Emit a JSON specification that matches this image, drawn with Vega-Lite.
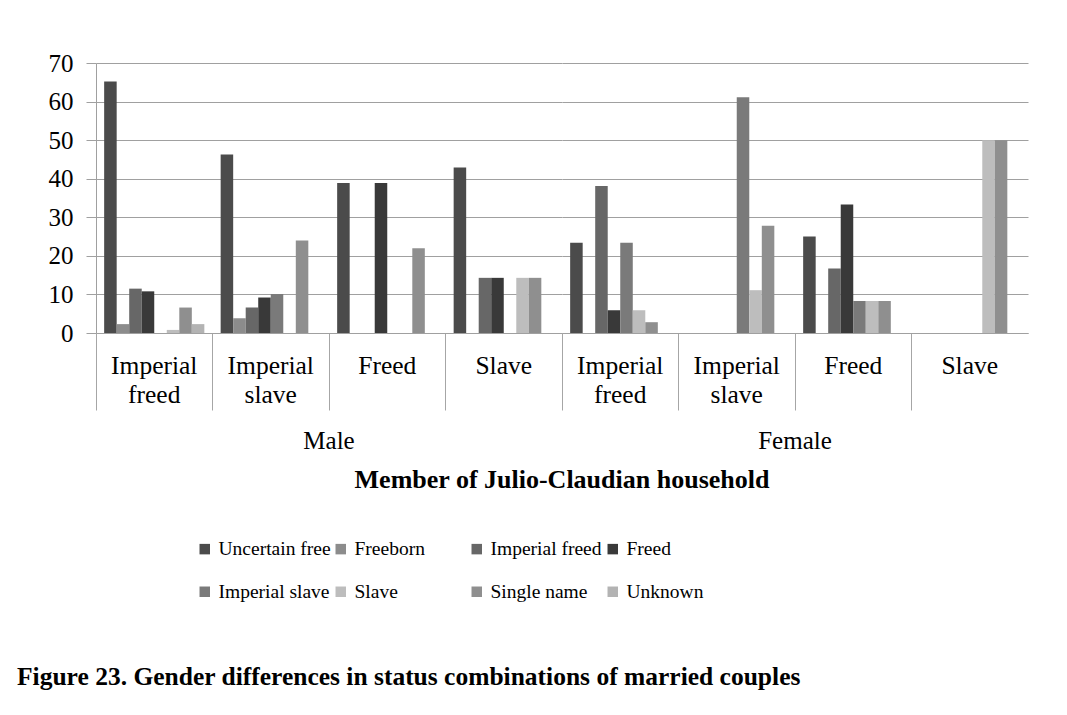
{
  "$schema": "https://vega.github.io/schema/vega-lite/v6.json",
  "background": "white",
  "padding": {"left": 17, "top": 51, "right": 30, "bottom": 5},
  "title": {
    "text": "Figure 23. Gender differences in status combinations of married couples",
    "orient": "bottom",
    "anchor": "start",
    "frame": "bounds",
    "font": "Liberation Serif",
    "fontSize": 25.5,
    "fontWeight": "bold",
    "color": "black",
    "offset": 63,
    "dx": -31
  },
  "data": {
    "values": [
      {"gender": "Male", "status": "Imperial freed", "series": "Uncertain free", "pct": 65.2},
      {"gender": "Male", "status": "Imperial freed", "series": "Freeborn", "pct": 2.3},
      {"gender": "Male", "status": "Imperial freed", "series": "Imperial freed", "pct": 11.5},
      {"gender": "Male", "status": "Imperial freed", "series": "Freed", "pct": 10.8},
      {"gender": "Male", "status": "Imperial freed", "series": "Imperial slave", "pct": 0},
      {"gender": "Male", "status": "Imperial freed", "series": "Slave", "pct": 0.8},
      {"gender": "Male", "status": "Imperial freed", "series": "Single name", "pct": 6.6},
      {"gender": "Male", "status": "Imperial freed", "series": "Unknown", "pct": 2.3},
      {"gender": "Male", "status": "Imperial slave", "series": "Uncertain free", "pct": 46.3},
      {"gender": "Male", "status": "Imperial slave", "series": "Freeborn", "pct": 3.8},
      {"gender": "Male", "status": "Imperial slave", "series": "Imperial freed", "pct": 6.6},
      {"gender": "Male", "status": "Imperial slave", "series": "Freed", "pct": 9.2},
      {"gender": "Male", "status": "Imperial slave", "series": "Imperial slave", "pct": 10.1},
      {"gender": "Male", "status": "Imperial slave", "series": "Slave", "pct": 0},
      {"gender": "Male", "status": "Imperial slave", "series": "Single name", "pct": 24.0},
      {"gender": "Male", "status": "Imperial slave", "series": "Unknown", "pct": 0},
      {"gender": "Male", "status": "Freed", "series": "Uncertain free", "pct": 38.9},
      {"gender": "Male", "status": "Freed", "series": "Freeborn", "pct": 0},
      {"gender": "Male", "status": "Freed", "series": "Imperial freed", "pct": 0},
      {"gender": "Male", "status": "Freed", "series": "Freed", "pct": 38.9},
      {"gender": "Male", "status": "Freed", "series": "Imperial slave", "pct": 0},
      {"gender": "Male", "status": "Freed", "series": "Slave", "pct": 0},
      {"gender": "Male", "status": "Freed", "series": "Single name", "pct": 22.0},
      {"gender": "Male", "status": "Freed", "series": "Unknown", "pct": 0},
      {"gender": "Male", "status": "Slave", "series": "Uncertain free", "pct": 42.9},
      {"gender": "Male", "status": "Slave", "series": "Freeborn", "pct": 0},
      {"gender": "Male", "status": "Slave", "series": "Imperial freed", "pct": 14.3},
      {"gender": "Male", "status": "Slave", "series": "Freed", "pct": 14.3},
      {"gender": "Male", "status": "Slave", "series": "Imperial slave", "pct": 0},
      {"gender": "Male", "status": "Slave", "series": "Slave", "pct": 14.3},
      {"gender": "Male", "status": "Slave", "series": "Single name", "pct": 14.3},
      {"gender": "Male", "status": "Slave", "series": "Unknown", "pct": 0},
      {"gender": "Female", "status": "Imperial freed", "series": "Uncertain free", "pct": 23.4},
      {"gender": "Female", "status": "Imperial freed", "series": "Freeborn", "pct": 0},
      {"gender": "Female", "status": "Imperial freed", "series": "Imperial freed", "pct": 38.1},
      {"gender": "Female", "status": "Imperial freed", "series": "Freed", "pct": 5.9},
      {"gender": "Female", "status": "Imperial freed", "series": "Imperial slave", "pct": 23.4},
      {"gender": "Female", "status": "Imperial freed", "series": "Slave", "pct": 5.9},
      {"gender": "Female", "status": "Imperial freed", "series": "Single name", "pct": 2.8},
      {"gender": "Female", "status": "Imperial freed", "series": "Unknown", "pct": 0},
      {"gender": "Female", "status": "Imperial slave", "series": "Uncertain free", "pct": 0},
      {"gender": "Female", "status": "Imperial slave", "series": "Freeborn", "pct": 0},
      {"gender": "Female", "status": "Imperial slave", "series": "Imperial freed", "pct": 0},
      {"gender": "Female", "status": "Imperial slave", "series": "Freed", "pct": 0},
      {"gender": "Female", "status": "Imperial slave", "series": "Imperial slave", "pct": 61.1},
      {"gender": "Female", "status": "Imperial slave", "series": "Slave", "pct": 11.1},
      {"gender": "Female", "status": "Imperial slave", "series": "Single name", "pct": 27.8},
      {"gender": "Female", "status": "Imperial slave", "series": "Unknown", "pct": 0},
      {"gender": "Female", "status": "Freed", "series": "Uncertain free", "pct": 25.0},
      {"gender": "Female", "status": "Freed", "series": "Freeborn", "pct": 0},
      {"gender": "Female", "status": "Freed", "series": "Imperial freed", "pct": 16.7},
      {"gender": "Female", "status": "Freed", "series": "Freed", "pct": 33.3},
      {"gender": "Female", "status": "Freed", "series": "Imperial slave", "pct": 8.3},
      {"gender": "Female", "status": "Freed", "series": "Slave", "pct": 8.3},
      {"gender": "Female", "status": "Freed", "series": "Single name", "pct": 8.3},
      {"gender": "Female", "status": "Freed", "series": "Unknown", "pct": 0},
      {"gender": "Female", "status": "Slave", "series": "Uncertain free", "pct": 0},
      {"gender": "Female", "status": "Slave", "series": "Freeborn", "pct": 0},
      {"gender": "Female", "status": "Slave", "series": "Imperial freed", "pct": 0},
      {"gender": "Female", "status": "Slave", "series": "Freed", "pct": 0},
      {"gender": "Female", "status": "Slave", "series": "Imperial slave", "pct": 0},
      {"gender": "Female", "status": "Slave", "series": "Slave", "pct": 50.0},
      {"gender": "Female", "status": "Slave", "series": "Single name", "pct": 50.0},
      {"gender": "Female", "status": "Slave", "series": "Unknown", "pct": 0}
    ]
  },
  "facet": {
    "column": {
      "field": "gender",
      "type": "nominal",
      "sort": ["Male", "Female"],
      "header": {
        "labelOrient": "bottom",
        "titleOrient": "bottom",
        "title": "Member of Julio-Claudian household",
        "labelFont": "Liberation Serif",
        "labelFontSize": 25,
        "labelColor": "black",
        "labelPadding": 18,
        "titleFont": "Liberation Serif",
        "titleFontSize": 26,
        "titleFontWeight": "bold",
        "titleColor": "black",
        "titlePadding": 3
      }
    }
  },
  "spacing": 0,
  "spec": {
    "width": 466,
    "height": 270,
    "mark": {"type": "bar"},
    "encoding": {
      "x": {
        "field": "status",
        "type": "nominal",
        "sort": ["Imperial freed", "Imperial slave", "Freed", "Slave"],
        "scale": {"paddingInner": 0.14, "paddingOuter": 0.07},
        "axis": {
          "title": null,
          "labelExpr": "split(datum.label, ' ')",
          "labelAngle": 0,
          "bandPosition": -0.08,
          "labelOffset": 0,
          "labelAlign": "center",
          "labelLineHeight": 29,
          "tickSize": 77,
          "tickColor": "#a6a6a6",
          "domainColor": "#a6a6a6",
          "labelPadding": -57,
          "labelFont": "Liberation Serif",
          "labelFontSize": 25.5,
          "labelColor": "black"
        }
      },
      "xOffset": {
        "field": "series",
        "type": "nominal",
        "sort": ["Uncertain free", "Freeborn", "Imperial freed", "Freed", "Imperial slave", "Slave", "Single name", "Unknown"],
        "scale": {"paddingInner": 0, "paddingOuter": 0}
      },
      "y": {
        "field": "pct",
        "type": "quantitative",
        "scale": {"domain": [0, 70]},
        "axis": {
          "title": null,
          "values": [0, 10, 20, 30, 40, 50, 60, 70],
          "grid": true,
          "gridColor": "#a0a0a0",
          "tickSize": 10,
          "tickColor": "#a0a0a0",
          "domainColor": "#a0a0a0",
          "labelPadding": 13,
          "labelFont": "Liberation Serif",
          "labelFontSize": 25,
          "labelColor": "black"
        }
      },
      "color": {
        "field": "series",
        "type": "nominal",
        "sort": ["Uncertain free", "Freeborn", "Imperial freed", "Freed", "Imperial slave", "Slave", "Single name", "Unknown"],
        "scale": {
          "domain": ["Uncertain free", "Freeborn", "Imperial freed", "Freed", "Imperial slave", "Slave", "Single name", "Unknown"],
          "range": ["#4b4b4b", "#8c8c8c", "#676767", "#393939", "#7a7a7a", "#bdbdbd", "#8f8f8f", "#b3b3b3"]
        },
        "legend": {
          "title": null,
          "orient": "none",
          "legendX": 99,
          "legendY": 476,
          "direction": "horizontal",
          "columns": 4,
          "gridAlign": "all",
          "symbolType": "square",
          "symbolSize": 110,
          "symbolStrokeWidth": 0,
          "labelFont": "Liberation Serif",
          "labelFontSize": 19.5,
          "labelColor": "black",
          "labelOffset": 4,
          "columnPadding": 0,
          "rowPadding": 22,
          "labelLimit": 300
        }
      }
    }
  },
  "config": {
    "view": {"stroke": null}
  }
}
